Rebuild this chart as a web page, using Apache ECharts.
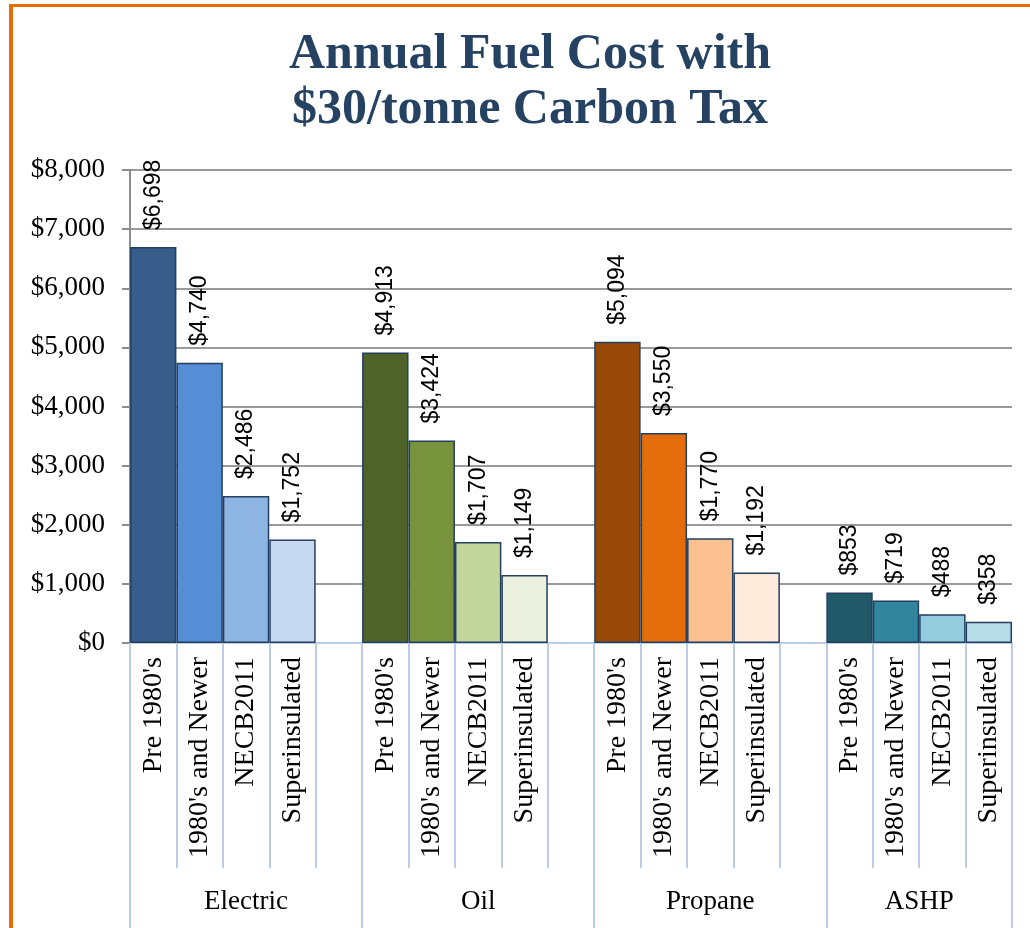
<!DOCTYPE html>
<html>
<head>
<meta charset="utf-8">
<script src="https://cdn.jsdelivr.net/npm/echarts@6/dist/echarts.min.js"></script>
<style>
  html, body { margin: 0; padding: 0; background: #fff; overflow: hidden; }
  #chart { position: absolute; left: 0; top: 0; width: 1030px; height: 928px; }
  #frame { position: absolute; left: 9px; top: 4px; width: 1200px; height: 1200px;
           border-left: 4px solid #E46C0A; border-top: 3px solid #E46C0A; pointer-events: none; }
</style>
</head>
<body>
<div id="chart"></div>
<div id="frame"></div>
<script>
// ---- Data ----
const titleText = ['Annual Fuel Cost with', '$30/tonne Carbon Tax'];
const groups = ['Electric', 'Oil', 'Propane', 'ASHP'];
const buildings = ["Pre 1980's", "1980's and Newer", 'NECB2011', 'Superinsulated'];
const electric = [6698, 4740, 2486, 1752];
const oil = [4913, 3424, 1707, 1149];
const propane = [5094, 3550, 1770, 1192];
const ashp = [853, 719, 488, 358];
const yTicks = [0, 1000, 2000, 3000, 4000, 5000, 6000, 7000, 8000];

// ---- Styles ----
const palettes = [
  ['#385D8A', '#558ED5', '#8EB4E3', '#C6D9F1'],
  ['#4F6228', '#77933C', '#C3D69B', '#EBF1DE'],
  ['#984807', '#E46C0A', '#FAC090', '#FDEADA'],
  ['#215968', '#31859C', '#93CDDD', '#B7DEE8']
];
const groupValues = [electric, oil, propane, ashp];

// Build slot categories (blank slot between groups)
const categories = [];
const seriesData = [];
const groupBounds = [0];
groupValues.forEach((vals, gi) => {
  vals.forEach((v, bi) => {
    categories.push(buildings[bi]);
    seriesData.push({ value: v, itemStyle: { color: palettes[gi][bi] } });
  });
  if (gi < groupValues.length - 1) {
    categories.push('');
    seriesData.push({ value: null });
  }
  groupBounds.push(categories.length);
});
// group label positions in slot units: center of each group's span
const groupCenters = groups.map((g, i) => (groupBounds[i] + groupBounds[i + 1]) / 2);

const money = v => '$' + Number(v).toLocaleString('en-US');
const lightBlue = '#B9CDE5';

const chart = echarts.init(document.getElementById('chart'), null, { renderer: 'canvas' });
chart.setOption({
  animation: false,
  backgroundColor: '#ffffff',
  title: {
    text: titleText.join('\n'),
    left: 525,
    textAlign: 'center',
    top: 23,
    textStyle: {
      fontFamily: 'Liberation Serif',
      fontWeight: 'bold',
      fontSize: 50,
      lineHeight: 55,
      color: '#264263'
    }
  },
  grid: { left: 130, right: 18, top: 170, bottom: 285, containLabel: false },
  xAxis: [
    {
      type: 'category',
      data: categories,
      position: 'bottom',
      axisLine: { show: true, lineStyle: { color: lightBlue, width: 2 } },
      axisTick: { show: true, interval: 0, length: 225, lineStyle: { color: lightBlue, width: 2 } },
      axisLabel: {
        interval: 0,
        rotate: 90,
        margin: 14,
        fontFamily: 'Liberation Serif',
        fontSize: 28,
        color: '#000'
      },
      splitLine: { show: false }
    },
    {
      type: 'value',
      min: 0,
      max: categories.length,
      position: 'bottom',
      axisLine: { show: false },
      axisTick: {
        show: true,
        customValues: groupBounds,
        length: 285,
        lineStyle: { color: lightBlue, width: 2 }
      },
      axisLabel: {
        show: true,
        customValues: groupCenters,
        margin: 245,
        fontFamily: 'Liberation Serif',
        fontSize: 27,
        color: '#000',
        formatter: v => {
          const i = groupCenters.indexOf(v);
          return i >= 0 ? groups[i] : '';
        }
      },
      splitLine: { show: false }
    }
  ],
  yAxis: {
    type: 'value',
    min: yTicks[0],
    max: yTicks[yTicks.length - 1],
    interval: yTicks[1] - yTicks[0],
    axisLine: { show: true, lineStyle: { color: '#8C8C8C', width: 2 } },
    axisTick: { show: true, length: 8, lineStyle: { color: '#8C8C8C', width: 2 } },
    axisLabel: {
      margin: 25,
      fontFamily: 'Liberation Serif',
      fontSize: 27,
      color: '#000',
      formatter: v => money(v)
    },
    splitLine: { show: true, lineStyle: { color: '#9A9A9A', width: 2 } }
  },
  series: [{
    type: 'bar',
    xAxisIndex: 0,
    data: seriesData,
    barWidth: '100%',
    barCategoryGap: '0%',
    itemStyle: { borderColor: '#243F60', borderWidth: 1.5 },
    label: {
      show: true,
      position: 'top',
      rotate: 90,
      align: 'left',
      verticalAlign: 'middle',
      distance: 17,
      fontFamily: 'Liberation Sans',
      fontSize: 23,
      color: '#000',
      formatter: p => (p.value == null ? '' : money(p.value))
    }
  }]
});
</script>
</body>
</html>
